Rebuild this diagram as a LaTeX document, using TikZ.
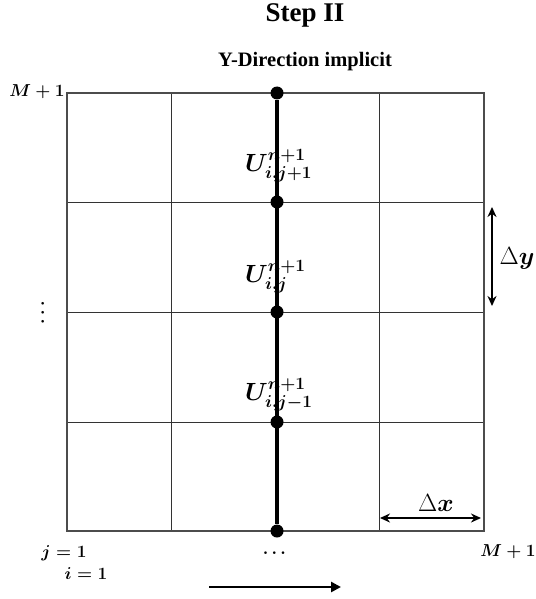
\documentclass[tikz,border=0pt]{standalone}
\usepackage{amsmath}
\usepackage{fontspec}
\setmainfont{Liberation Serif}
\usetikzlibrary{arrows.meta}

\begin{document}
\begin{tikzpicture}[
  x=1pt,
  y=-1pt,
  gridline/.style={draw=black!80,line width=1pt},
  border/.style={draw=black!70,line width=2pt},
  sweep/.style={draw=black,line width=4pt},
  gridpt/.style={circle,fill=black,inner sep=0pt,minimum size=13pt},
  heading/.style={font=\bfseries\fontsize{27}{32}\selectfont,inner sep=0pt,anchor=base},
  subheading/.style={font=\bfseries\fontsize{20.5}{24}\selectfont,inner sep=0pt,anchor=base},
  idx/.style={font=\boldmath\fontsize{18}{22}\selectfont,inner sep=0pt},
  unknown/.style={font=\boldmath\fontsize{25}{30}\selectfont,inner sep=0pt,anchor=west},
  spacing/.style={draw=black,line width=1.8pt,{Stealth[length=10pt,width=9pt]}-{Stealth[length=10pt,width=9pt]}}
]
  \useasboundingbox (0,0) rectangle (535,599);

  % titles
  \node[heading] (title) at (305,22) {Step II};
  \node[subheading] (subtitle) at (305,67) {Y-Direction implicit};

  % mesh
  \foreach \gx in {171,379}
    \draw[gridline] (\gx,93) -- (\gx,531);
  \foreach \gy in {202,312,422}
    \draw[gridline] (67,\gy) -- (484,\gy);
  \draw[border] (67,93) rectangle (484,531);

  % implicit column
  \foreach \k/\gy in {0/93,1/202,2/312,3/422,4/531}
    \node[gridpt] (p\k) at (277,\gy) {};
  \draw[sweep] (p0) -- (p4);

  \node[unknown] (uplus) at (245,166) {$U^{n+1}_{i,j+1}$};
  \node[unknown] (umid) at (245,277) {$U^{n+1}_{i,j}$};
  \node[unknown] (uminus) at (245,395) {$U^{n+1}_{i,j-1}$};

  % index labels
  \node[idx] (mtop) at (37,92) {$M+1$};
  \node[idx,rotate=90,font=\boldmath\fontsize{17}{20}\selectfont] (vdot) at (43,311) {$\cdots$};
  \node[idx] (jone) at (64,553) {$j=1$};
  \node[idx] (ione) at (86,574) {$i=1$};
  \node[idx,font=\boldmath\fontsize{18}{22}\selectfont] (hdots) at (276,553) {$\cdots$};
  \node[idx] (mright) at (508,552) {$M+1$};

  % mesh spacing
  \coordinate (dyt) at (492,207);
  \coordinate (dyb) at (492,306);
  \draw[spacing] (dyt) -- (dyb);
  \node[font=\fontsize{26}{30}\selectfont,inner sep=0pt] (dylbl) at (517,258) {$\Delta\boldsymbol{y}$};

  \coordinate (dxl) at (380,518);
  \coordinate (dxr) at (481,518);
  \draw[spacing] (dxl) -- (dxr);
  \node[font=\fontsize{26}{30}\selectfont,inner sep=0pt] (dxlbl) at (436,503) {$\Delta\boldsymbol{x}$};

  % sweep direction
  \coordinate (sw0) at (209,587);
  \coordinate (sw1) at (341,587);
  \draw[draw=black,line width=2.6pt,-{Triangle[length=10pt,width=10pt]}] (sw0) -- (sw1);
\end{tikzpicture}
\end{document}
